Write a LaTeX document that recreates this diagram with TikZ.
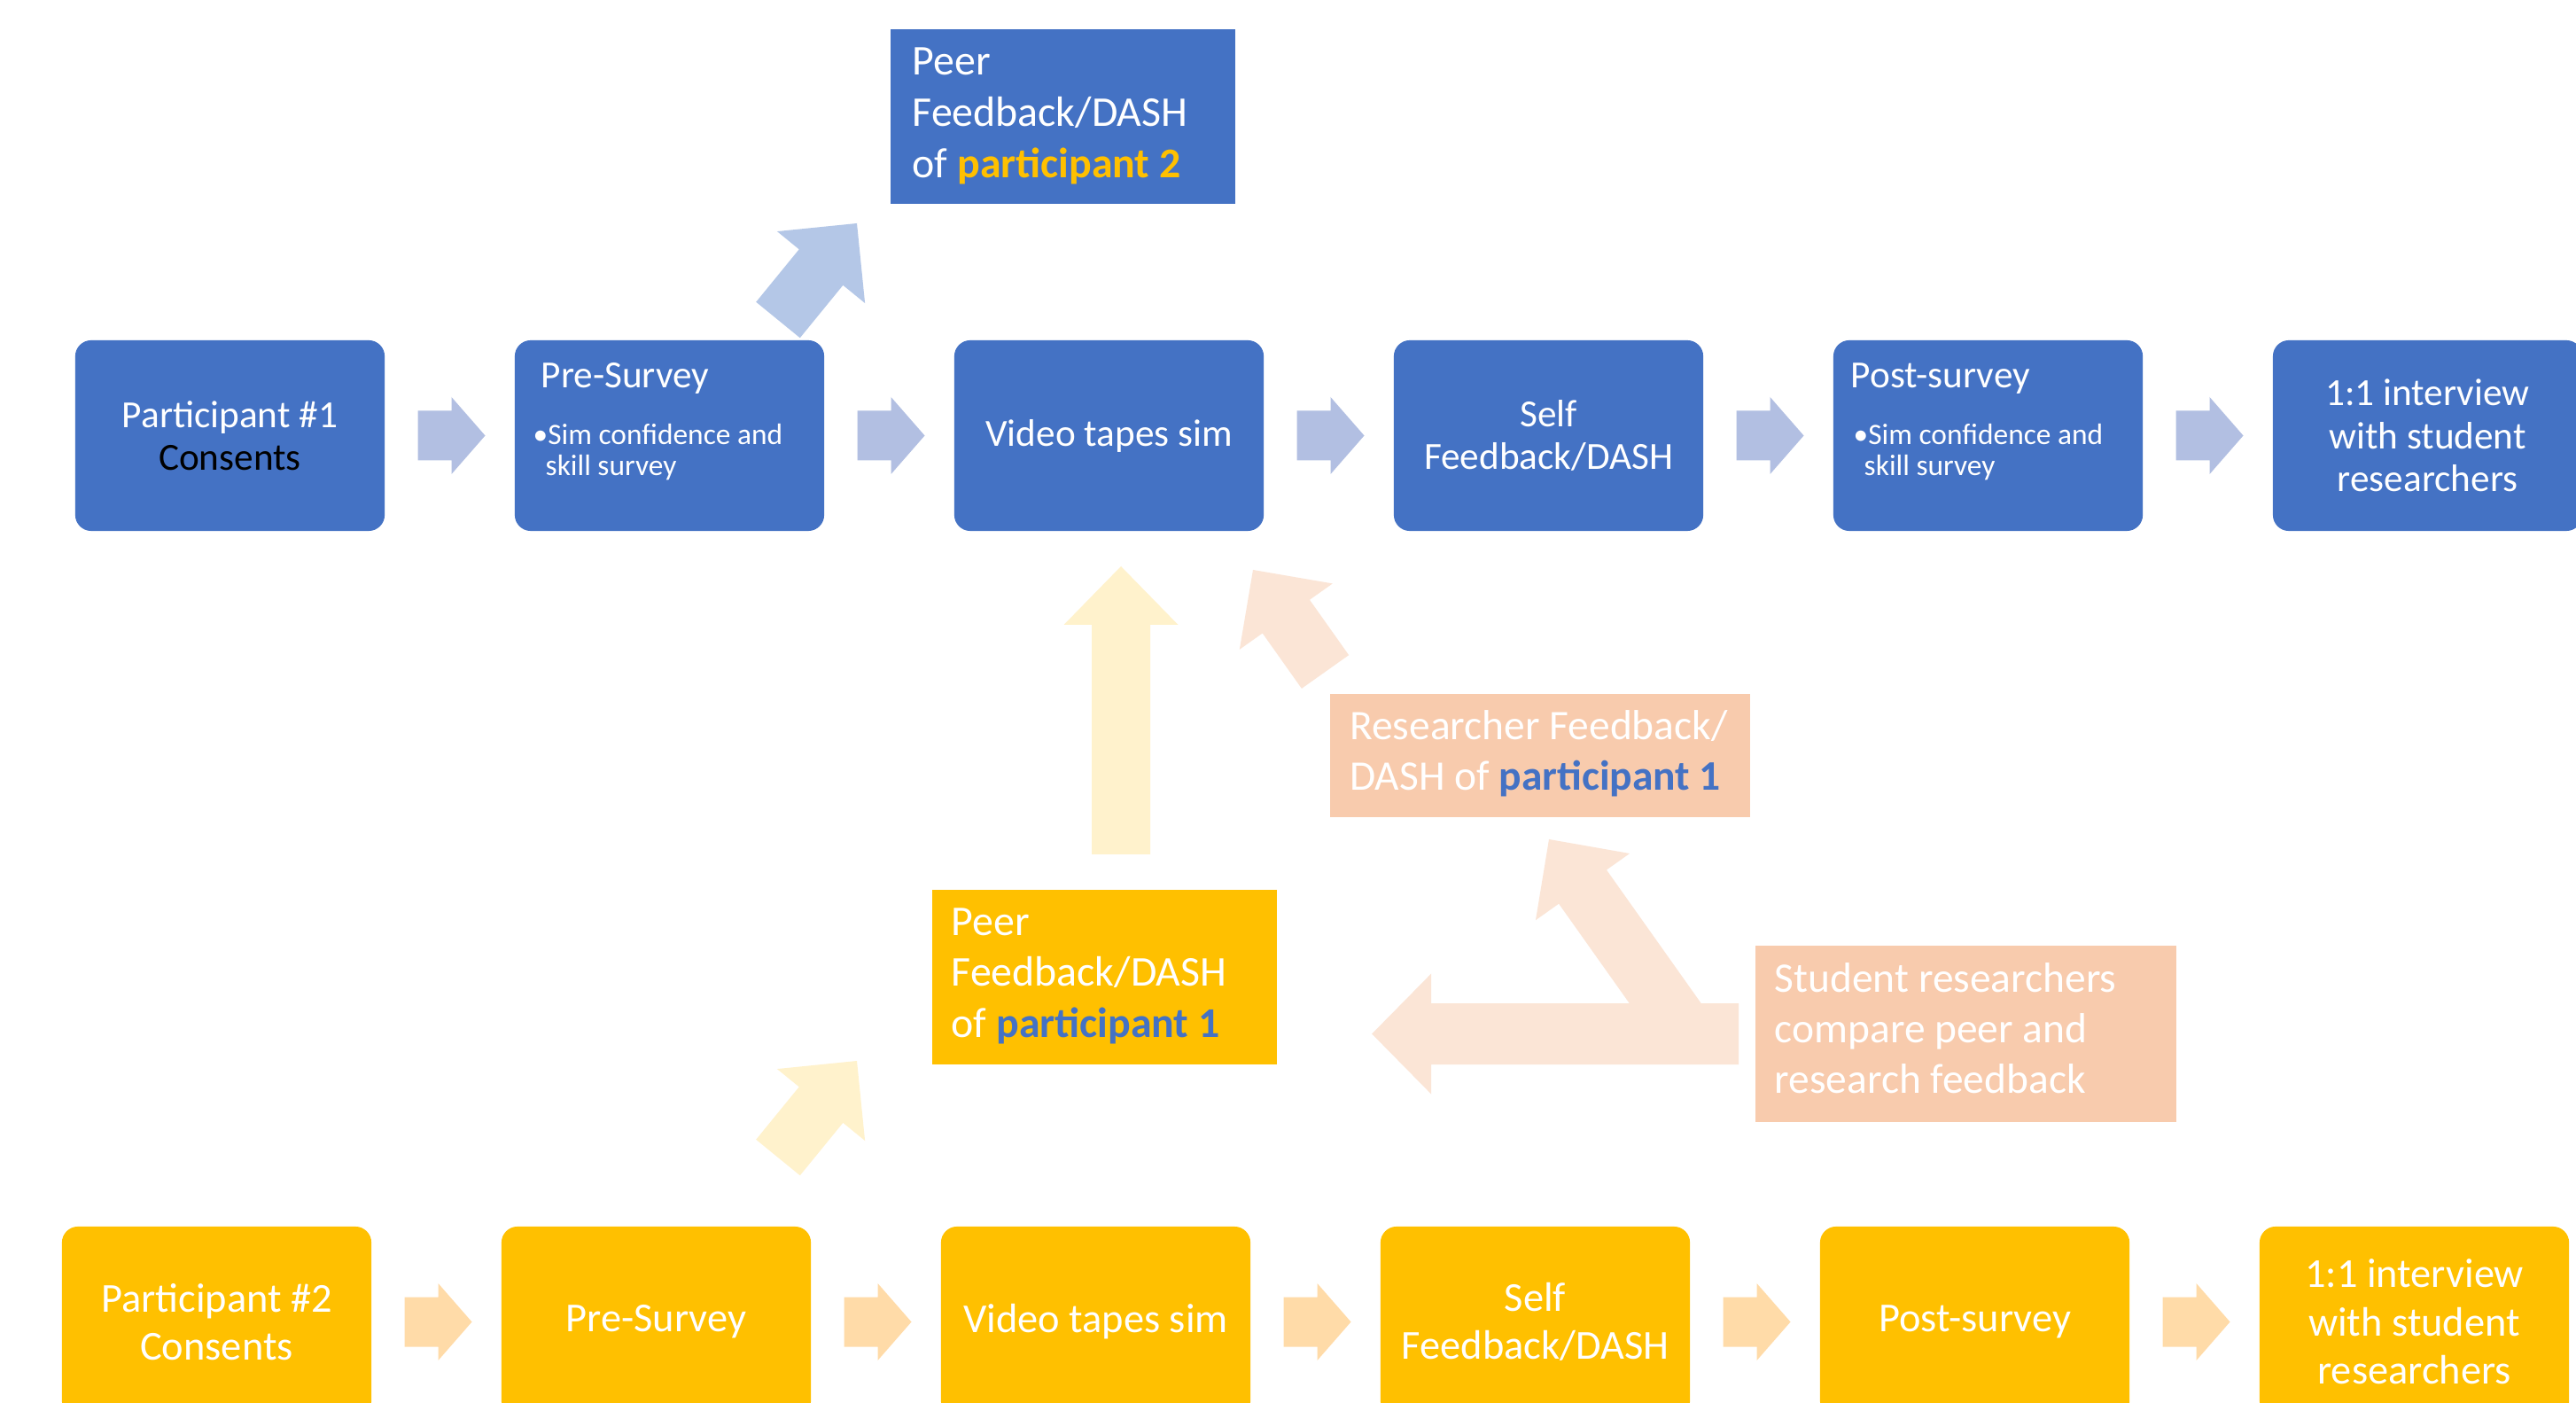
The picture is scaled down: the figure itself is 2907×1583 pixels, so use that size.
\documentclass[tikz,border=0pt]{standalone}
\usepackage{fontspec}
\setmainfont{Carlito}
\usetikzlibrary{calc}
\definecolor{ablue}{HTML}{4472C4}
\definecolor{agold}{HTML}{FFC000}
\definecolor{salbox}{HTML}{F8CBAD}
\definecolor{salarr}{HTML}{FBE5D6}
\definecolor{bluearr}{RGB}{178,191,226}
\definecolor{bluediag}{HTML}{B4C7E7}
\definecolor{goldarr}{RGB}{255,219,168}
\definecolor{paleyel}{HTML}{FFF2CC}
% block arrow: #1 tail, #2 tip, #3 half shaft, #4 half head, #5 head length (px), #6 colour
\newcommand{\blockarr}[6]{%
  \coordinate (ba-s) at (#1);
  \coordinate (ba-e) at (#2);
  \coordinate (ba-n) at ($(ba-e)!#5*0.01cm!(ba-s)$);
  \fill[#6] ($(ba-s)!#3*0.01cm!90:(ba-e)$) -- ($(ba-n)!#3*0.01cm!90:(ba-e)$)
    -- ($(ba-n)!#4*0.01cm!90:(ba-e)$) -- (ba-e) -- ($(ba-n)!#4*0.01cm!-90:(ba-e)$)
    -- ($(ba-n)!#3*0.01cm!-90:(ba-e)$) -- ($(ba-s)!#3*0.01cm!-90:(ba-e)$) -- cycle;
}
\begin{document}
\begin{tikzpicture}[x=0.01cm,y=-0.01cm,
  topbox/.style={fill=ablue, rounded corners=0.18cm, minimum width=3.49cm, minimum height=2.15cm,
    inner sep=0pt, text=white, align=center, font=\fontsize{12.3}{13.8}\selectfont},
  botbox/.style={fill=agold, rounded corners=0.18cm, minimum width=3.49cm, minimum height=2.15cm,
    inner sep=0pt, text=white, align=center, font=\fontsize{13.2}{15.5}\selectfont},
  boxtext/.style={anchor=base west, inner sep=0pt, align=left, text=white},
  titletext/.style={anchor=base west, inner sep=0pt, text=white, font=\fontsize{12.3}{13.8}\selectfont},
  bullettext/.style={anchor=base west, inner sep=0pt, text=white, font=\fontsize{9.5}{10.5}\selectfont}]
\useasboundingbox (0,0) rectangle (2907,1583);
\fill[white] (0,0) rectangle (2907,1583);

% top row (participant 1)
\node[topbox] (t1) at (259.5,491.5) {Participant \#1\\\textcolor{black}{Consents}};
\node[topbox] (t2) at (755.5,491.5) {};
\node[topbox] (t3) at (1251.5,491.5) {Video tapes sim};
\node[topbox] (t4) at (1747.5,491.5) {Self\\Feedback/DASH};
\node[topbox] (t5) at (2243.5,491.5) {};
\node[topbox] (t6) at (2739.5,491.5) {1:1 interview\\with student\\researchers};
\node[titletext] (t2title) at (610,438) {Pre-Survey};
\node[bullettext] (t2b1) at (601,502) {•Sim confidence and};
\node[bullettext] (t2b2) at (615,537) {skill survey};
\node[titletext] (t5title) at (2088,438) {Post-survey};
\node[bullettext] (t5b1) at (2091,502) {•Sim confidence and};
\node[bullettext] (t5b2) at (2103,537) {skill survey};

% bottom row (participant 2)
\node[botbox] (b1) at (244.5,1491.5) {Participant \#2\\Consents};
\node[botbox] (b2) at (740.5,1491.5) {Pre-Survey};
\node[botbox] (b3) at (1236.5,1491.5) {Video tapes sim};
\node[botbox] (b4) at (1732.5,1491.5) {Self\\Feedback/DASH};
\node[botbox] (b5) at (2228.5,1491.5) {Post-survey};
\node[botbox] (b6) at (2724.5,1491.5) {1:1 interview\\with student\\researchers};

% feedback boxes
\node[fill=ablue, inner sep=0pt, minimum width=3.89cm, minimum height=1.97cm] (peer2) at (1199.5,131.5) {};
\node[boxtext, font=\fontsize{13.6}{16.5}\selectfont] (peer2t) at (1029,201)
  {Peer\\Feedback/DASH\\of \textbf{\textcolor{agold}{participant 2}}};
\node[fill=agold, inner sep=0pt, minimum width=3.89cm, minimum height=1.97cm] (peer1) at (1246.5,1102.5) {};
\node[boxtext, font=\fontsize{13.6}{16.3}\selectfont] (peer1t) at (1073,1170)
  {Peer\\Feedback/DASH\\of \textbf{\textcolor{ablue}{participant 1}}};
\node[fill=salbox, inner sep=0pt, minimum width=4.74cm, minimum height=1.39cm] (res) at (1738,852.5) {};
\node[boxtext, font=\fontsize{13.5}{16.1}\selectfont] (rest) at (1522.5,891.5)
  {Researcher Feedback/\\DASH of \textbf{\textcolor{ablue}{participant 1}}};
\node[fill=salbox, inner sep=0pt, minimum width=4.75cm, minimum height=1.99cm] (stud) at (2218.5,1166.5) {};
\node[boxtext, font=\fontsize{13.5}{16.2}\selectfont] (studt) at (2002,1233)
  {Student researchers\\compare peer and\\research feedback};

% process arrows
\foreach \i/\j in {1/2,2/3,3/4,4/5,5/6}{
  \blockarr{$(t\i.east)!0.5!(t\j.west)+(-36,0)$}{$(t\i.east)!0.5!(t\j.west)+(40,0)$}{28}{43.5}{38}{bluearr}
  \blockarr{$(b\i.east)!0.5!(b\j.west)+(-36,0)$}{$(b\i.east)!0.5!(b\j.west)+(40,0)$}{28}{43.5}{38}{goldarr}
}

% diagonal and feedback arrows
\blockarr{878,361}{967,252}{32}{64}{64}{bluediag}
\blockarr{878,1306}{967,1197}{32}{64}{64}{paleyel}
\blockarr{1265,964}{1265,639}{33}{64.5}{66}{paleyel}
\blockarr{1495.5,758}{1414,643}{32.6}{64.3}{64.5}{salarr}
\blockarr{$(stud.west)+(-18,0)$}{$(stud.west)+(-432,0)$}{34.5}{68}{67}{salarr}
\blockarr{1904,1167}{1748,947}{33}{65}{65.7}{salarr}
\end{tikzpicture}
\end{document}
